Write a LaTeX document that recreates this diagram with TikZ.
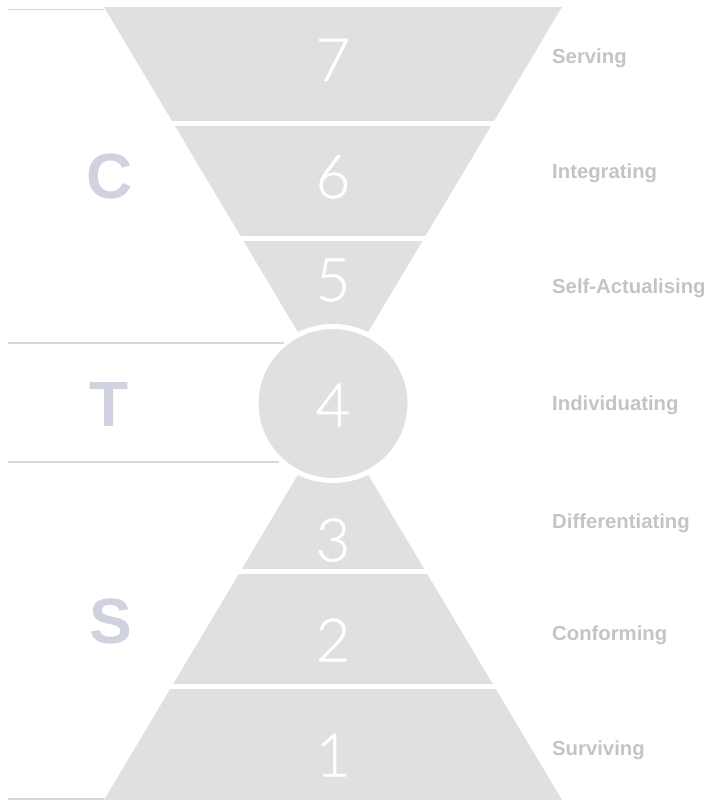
\documentclass[tikz,border=0pt]{standalone}
\usepackage{fontspec}
\setmainfont{Liberation Sans}
\newfontfamily\numfont[FakeBold=0.8]{Lato Light}
\usetikzlibrary{calc}
\definecolor{bandgray}{RGB}{224,224,224}
\definecolor{labelgray}{RGB}{196,196,196}
\definecolor{tiercol}{RGB}{208,210,225}
\definecolor{rulegray}{RGB}{216,216,216}
\tikzset{
  num/.style={anchor=center, text=white, inner sep=0pt,
    font={\numfont\fontsize{60}{60}\selectfont}},
  stage/.style={anchor=base west, text=labelgray, inner sep=0pt,
    font={\bfseries\fontsize{20.3}{20.3}\selectfont}},
  tier/.style={anchor=center, text=tiercol, inner sep=0pt,
    font={\bfseries\fontsize{64}{64}\selectfont}},
  rule/.style={draw=rulegray, line width=1.5pt},
  gap/.style={draw=white, line width=5pt}
}

\begin{document}
\begin{tikzpicture}[x=1pt, y=-1pt]
  \useasboundingbox (0,0) rectangle (714,803);

  % hourglass
  \fill[bandgray] (104,7) -- (562,7) -- (333,391) -- cycle;
  \fill[bandgray] (104,800) -- (562,800) -- (333,416) -- cycle;
  \foreach \y in {123.5,238.5,571,686}
    \draw[gap] (90,\y) -- (580,\y);
  \node[circle, fill=bandgray, draw=white, line width=5pt,
    minimum size=154pt, inner sep=0pt] (core) at (333,403.5) {};

  % numbers
  \node[num] (n7) at (333,60) {7};
  \node[num] (n6) at (333,177) {6};
  \node[num] (n5) at (333,280) {5};
  \node[num] (n4) at (333,405) {4};
  \node[num] (n3) at (333,540) {3};
  \node[num] (n2) at (333,640) {2};
  \node[num] (n1) at (333,755) {1};

  % stage names
  \node[stage] (s7) at (552,63) {Serving};
  \node[stage] (s6) at (552,178) {Integrating};
  \node[stage] (s5) at (552,293) {Self-Actualising};
  \node[stage] (s4) at (552,410) {Individuating};
  \node[stage] (s3) at (552,528) {Differentiating};
  \node[stage] (s2) at (552,640) {Conforming};
  \node[stage] (s1) at (552,755) {Surviving};

  % tiers
  \node[tier] (tC) at (110,176) {C};
  \node[tier] (tT) at (109,404) {T};
  \node[tier] (tS) at (111,621) {S};

  % rules
  \coordinate (r1a) at (8,9.5);   \coordinate (r1b) at (104,9.5);
  \coordinate (r2a) at (8,343);   \coordinate (r2b) at (284,343);
  \coordinate (r3a) at (8,462);   \coordinate (r3b) at (279,462);
  \coordinate (r4a) at (8,799);   \coordinate (r4b) at (104,799);
  \draw[rule] (r1a) -- (r1b);
  \draw[rule] (r2a) -- (r2b);
  \draw[rule] (r3a) -- (r3b);
  \draw[rule] (r4a) -- (r4b);
\end{tikzpicture}
\end{document}
